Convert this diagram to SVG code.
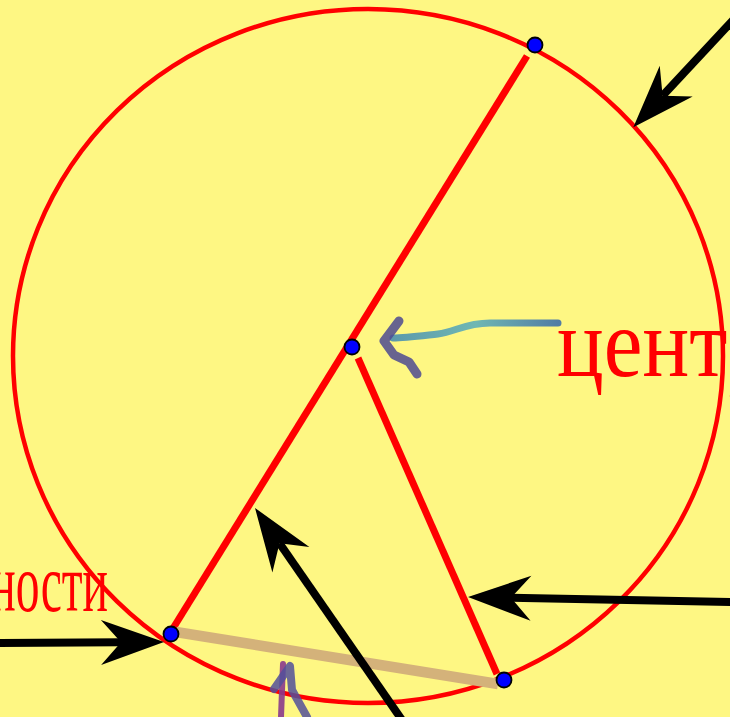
<svg xmlns="http://www.w3.org/2000/svg" width="730" height="717" viewBox="0 0 730 717">
<style>
.red{stroke:#ff0000;fill:none;stroke-linecap:butt}
.arr{stroke:#000;stroke-width:8;fill:none;marker-end:url(#ah)}
.pt{fill:#0000ff;stroke:#000;stroke-width:1.8}
.lbl{font-family:"Liberation Serif","Times New Roman",serif;fill:#ff0000}
</style>
<defs>
<marker id="ah" markerUnits="userSpaceOnUse" markerWidth="80" markerHeight="60" viewBox="-25 -30 80 60" refX="0" refY="0" orient="auto" overflow="visible">
<path d="M43,0 L-20,-22.5 L0,0 L-20,22.5 Z" fill="#000"/>
</marker>
<linearGradient id="teal" x1="0" y1="0" x2="1" y2="0">
<stop offset="0" stop-color="#4a8fb0"/>
<stop offset="0.5" stop-color="#5fb0b8"/>
<stop offset="1" stop-color="#3f6fa8"/>
</linearGradient>
</defs>
<rect width="730" height="717" fill="#fef783"/>
<g id="labels">
<text class="lbl" transform="translate(557,376) scale(0.9,1)" font-size="97">центр</text>
<text class="lbl" transform="translate(108,611) scale(0.58,1)" font-size="82" text-anchor="end">ности</text>
</g>
<g id="circle">
<ellipse class="red" cx="368" cy="356" rx="355" ry="347" stroke-width="4.5"/>
</g>
<g id="segments">
<line class="red" x1="527" y1="56" x2="172" y2="630" stroke-width="7"/>
<line class="red" x1="358" y1="358" x2="497" y2="674" stroke-width="7"/>
<line x1="176" y1="632" x2="498" y2="684" stroke="#d4b27a" stroke-width="10.5"/>
</g>
<g id="connectors">
<line class="arr" x1="734" y1="19" x2="662.6" y2="95.8"/>
<line class="arr" x1="-2" y1="643" x2="121" y2="642.3"/>
<line class="arr" x1="734" y1="602" x2="511" y2="597.8"/>
<line class="arr" x1="402" y1="720" x2="279.5" y2="543.3"/>
</g>
<g id="handdrawn" fill="none" stroke-linecap="round" stroke-linejoin="round">
<path d="M558,323 L490,323 C465,323 455,332 438,334 C420,336 405,338 393,338" stroke="url(#teal)" stroke-width="7" opacity="0.9"/>
<path d="M399,321 L384,341 L394,355 L409,362 L417,374" stroke="#4d4a92" stroke-width="9" opacity="0.85"/>
<path d="M283,664 L281,717" stroke="#8a3a8c" stroke-width="6" opacity="0.9"/>
<path d="M274,689 L290,666 L292,690 L307,717" stroke="#52509a" stroke-width="8" opacity="0.85"/>
</g>
<g id="points">
<circle class="pt" cx="535" cy="45" r="7.5"/>
<circle class="pt" cx="352" cy="347" r="7.5"/>
<circle class="pt" cx="171" cy="634" r="7.5"/>
<circle class="pt" cx="504" cy="680" r="7.5"/>
</g>
</svg>
